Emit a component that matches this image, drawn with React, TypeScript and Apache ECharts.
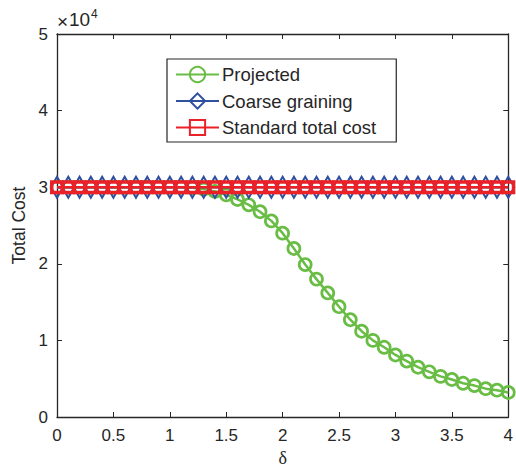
import React, { useEffect, useRef } from "react";
import * as echarts from "echarts";

const deltas = [
  0, 0.1, 0.2, 0.3, 0.4, 0.5, 0.6, 0.7, 0.8, 0.9, 1.0, 1.1, 1.2, 1.3, 1.4, 1.5, 1.6, 1.7, 1.8, 1.9, 2.0,
  2.1, 2.2, 2.3, 2.4, 2.5, 2.6, 2.7, 2.8, 2.9, 3.0, 3.1, 3.2, 3.3, 3.4, 3.5, 3.6, 3.7, 3.8, 3.9, 4.0,
];

const projected = [
  30000, 30000, 30000, 30000, 30000, 30000, 30000, 30000, 30000, 30000, 30000, 29980, 29920, 29750, 29450,
  29000, 28400, 27700, 26800, 25600, 24000, 22000, 19900, 18000, 16200, 14400, 12700, 11200, 10000, 9100,
  8100, 7300, 6500, 5900, 5300, 4900, 4400, 4100, 3700, 3500, 3200,
];

const coarse = [
  30000, 30000, 30000, 30000, 30000, 30000, 30000, 30000, 30000, 30000, 30000, 30000, 30000, 30000, 30000,
  30000, 30000, 30000, 30000, 30000, 30000, 30000, 30000, 30000, 30000, 30000, 30000, 30000, 30000, 30000,
  30000, 30000, 30000, 30000, 30000, 30000, 30000, 30000, 30000, 30000, 30000,
];

const standard = [
  30000, 30000, 30000, 30000, 30000, 30000, 30000, 30000, 30000, 30000, 30000, 30000, 30000, 30000, 30000,
  30000, 30000, 30000, 30000, 30000, 30000, 30000, 30000, 30000, 30000, 30000, 30000, 30000, 30000, 30000,
  30000, 30000, 30000, 30000, 30000, 30000, 30000, 30000, 30000, 30000, 30000,
];

const seriesNames = ["Projected", "Coarse graining", "Standard total cost"];

const GREEN = "#69bd45";
const BLUE = "#2f4f9f";
const RED = "#ec2027";
const AXIS = "#262626";
const FONT = "Liberation Sans, Arial, sans-serif";

export default function App() {
  const ref = useRef<HTMLDivElement>(null);
  useEffect(() => {
    if (!ref.current) return;
    const chart = echarts.init(ref.current, undefined, { renderer: "svg" });
    const pairs = (ys: number[]) => deltas.map((d, i) => [d, ys[i]]);
    const axisLine = { show: true, onZero: false, lineStyle: { color: AXIS, width: 1.3 } };
    const axisTick = { show: true, inside: true, length: 5, lineStyle: { color: AXIS, width: 1 } };
    chart.setOption({
      animation: false,
      backgroundColor: "#ffffff",
      grid: { left: 57, top: 34, right: 2, bottom: 48, containLabel: false },
      xAxis: [
        {
          type: "value",
          min: 0,
          max: 4,
          interval: 0.5,
          name: "δ",
          nameLocation: "middle",
          nameGap: 32,
          nameTextStyle: { fontFamily: "Liberation Serif, serif", fontSize: 18, color: AXIS },
          axisLine,
          axisTick,
          axisLabel: { fontFamily: FONT, fontSize: 17, color: AXIS, margin: 10, showMaxLabel: true },
          splitLine: { show: false },
        },
        {
          type: "value",
          position: "top",
          min: 0,
          max: 4,
          interval: 0.5,
          axisLine,
          axisTick,
          axisLabel: { show: false },
          splitLine: { show: false },
        },
      ],
      yAxis: [
        {
          type: "value",
          min: 0,
          max: 50000,
          interval: 10000,
          name: "Total Cost",
          nameLocation: "middle",
          nameGap: 29,
          nameTextStyle: { fontFamily: FONT, fontSize: 17.5, color: AXIS },
          axisLine,
          axisTick,
          axisLabel: {
            fontFamily: FONT,
            fontSize: 17,
            color: AXIS,
            margin: 9,
            formatter: (v: number) => String(v / 10000),
          },
          splitLine: { show: false },
        },
        {
          type: "value",
          position: "right",
          min: 0,
          max: 50000,
          interval: 10000,
          axisLine,
          axisTick,
          axisLabel: { show: false },
          splitLine: { show: false },
        },
      ],
      legend: {
        orient: "vertical",
        left: 167,
        top: 59,
        padding: [6, 20, 5, 8],
        itemGap: 7.5,
        itemWidth: 43,
        itemHeight: 19,
        backgroundColor: "#ffffff",
        borderColor: AXIS,
        borderWidth: 1.2,
        borderRadius: 0,
        textStyle: { fontFamily: FONT, fontSize: 18.5, lineHeight: 18, color: AXIS, padding: [0, 0, 0, -2] },
        data: seriesNames,
      },
      graphic: [
        {
          type: "text",
          left: 57,
          top: 12,
          style: { text: "×", fontFamily: FONT, fontSize: 19, fill: AXIS },
        },
        {
          type: "text",
          left: 69,
          top: 10,
          style: { text: "10", fontFamily: FONT, fontSize: 19, fill: AXIS },
        },
        {
          type: "text",
          left: 91,
          top: 8,
          style: { text: "4", fontFamily: FONT, fontSize: 12, fill: AXIS },
        },
      ],
      series: [
        {
          name: seriesNames[0],
          type: "line",
          data: pairs(projected),
          clip: false,
          z: 2,
          symbol: "circle",
          symbolSize: 12,
          showAllSymbol: true,
          lineStyle: { color: GREEN, width: 2.5 },
          itemStyle: { color: "rgba(255,255,255,0)", borderColor: GREEN, borderWidth: 2.7 },
        },
        {
          name: seriesNames[1],
          type: "line",
          data: pairs(coarse),
          clip: false,
          z: 3,
          symbol: "diamond",
          symbolSize: [12, 21],
          showAllSymbol: true,
          lineStyle: { color: BLUE, width: 2.5 },
          itemStyle: { color: "rgba(255,255,255,0)", borderColor: BLUE, borderWidth: 2.2 },
        },
        {
          name: seriesNames[2],
          type: "line",
          data: pairs(standard),
          clip: false,
          z: 4,
          symbol: "rect",
          symbolSize: 10.5,
          showAllSymbol: true,
          lineStyle: { color: RED, width: 2.5 },
          itemStyle: { color: "rgba(255,255,255,0)", borderColor: RED, borderWidth: 3.5 },
        },
      ],
    });
    return () => chart.dispose();
  }, []);
  return <div ref={ref} style={{ width: 516, height: 472, position: "absolute", left: 0, top: 0 }} />;
}
